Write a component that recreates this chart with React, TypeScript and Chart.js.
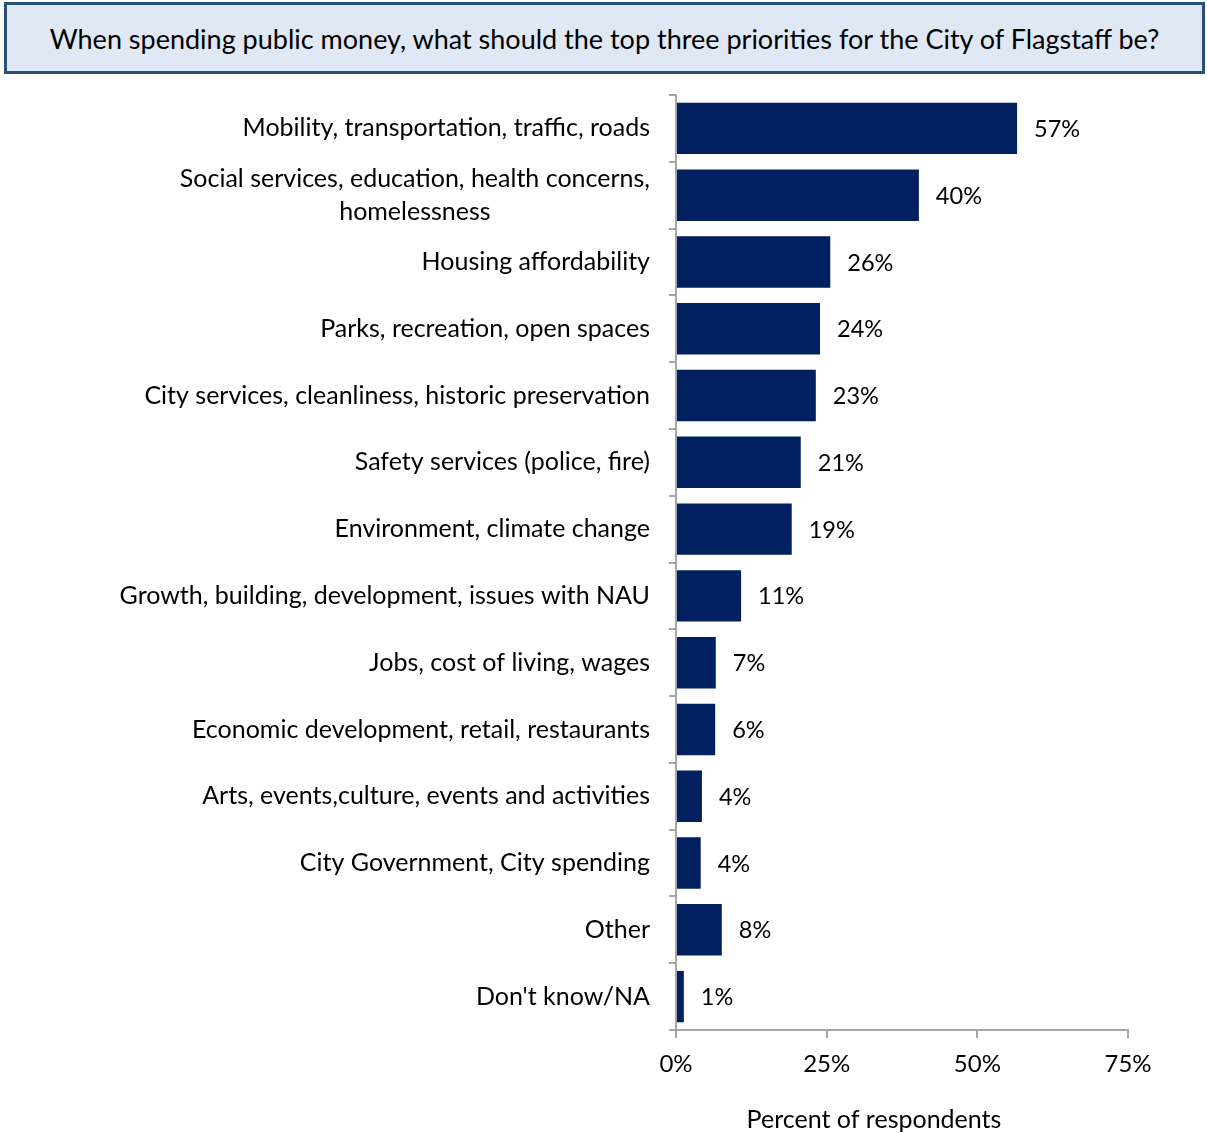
import React, { useEffect, useRef } from 'react';
import { Chart, registerables } from 'chart.js';

Chart.register(...registerables);

const titleText = 'When spending public money, what should the top three priorities for the City of Flagstaff be?';
const axisTitle = 'Percent of respondents';

const categories: (string | string[])[] = [
  'Mobility, transportation, traffic, roads',
  ['Social services, education, health concerns,', 'homelessness'],
  'Housing affordability',
  'Parks, recreation, open spaces',
  'City services, cleanliness, historic preservation',
  'Safety services (police, fire)',
  'Environment, climate change',
  'Growth, building, development, issues with NAU',
  'Jobs, cost of living, wages',
  'Economic development, retail, restaurants',
  'Arts, events,culture, events and activities',
  'City Government, City spending',
  'Other',
  "Don't know/NA",
];

const values = [56.6, 40.3, 25.6, 23.9, 23.2, 20.7, 19.2, 10.8, 6.6, 6.5, 4.3, 4.1, 7.6, 1.3];
const valueLabels = ['57%', '40%', '26%', '24%', '23%', '21%', '19%', '11%', '7%', '6%', '4%', '4%', '8%', '1%'];
const xTickValues = [0, 25, 50, 75];

const W = 1207;
const H = 1133;
const FONT = 'Lato, "Open Sans", sans-serif';

export default function App() {
  const ref = useRef<HTMLCanvasElement | null>(null);

  useEffect(() => {
    document.body.style.margin = '0';
    if (!ref.current) return;
    const valueLabelPlugin = {
      id: 'valueLabels',
      afterDatasetsDraw(chart: any) {
        const ctx = chart.ctx;
        const meta = chart.getDatasetMeta(0);
        ctx.save();
        ctx.font = `23.5px ${FONT}`;
        ctx.fillStyle = '#000';
        ctx.textAlign = 'left';
        ctx.textBaseline = 'middle';
        meta.data.forEach((el: any, i: number) => {
          ctx.fillText(valueLabels[i], el.x + 17, el.y + 1);
        });
        ctx.restore();
      },
    };
    const categoryLabelPlugin = {
      id: 'categoryLabels',
      afterDraw(chart: any) {
        const ctx = chart.ctx;
        const ys = chart.scales.y;
        const right = ys.right - 7 - 19;
        const lh = 33;
        ctx.save();
        ctx.font = `25px ${FONT}`;
        ctx.fillStyle = '#000';
        ctx.textAlign = 'center';
        ctx.textBaseline = 'middle';
        categories.forEach((label, i) => {
          const lines = Array.isArray(label) ? label : [label];
          const y = ys.getPixelForValue(i);
          const blockW = Math.max(...lines.map((l) => ctx.measureText(l).width));
          const cx = right - blockW / 2;
          const y0 = y - ((lines.length - 1) * lh) / 2;
          lines.forEach((l, j) => ctx.fillText(l, cx, y0 + j * lh));
        });
        ctx.restore();
      },
    };
    const axisTitlePlugin = {
      id: 'axisTitle',
      afterDraw(chart: any) {
        const ctx = chart.ctx;
        const a = chart.chartArea;
        ctx.save();
        ctx.font = `25px ${FONT}`;
        ctx.fillStyle = '#000';
        ctx.textAlign = 'center';
        ctx.textBaseline = 'middle';
        ctx.fillText(axisTitle, (a.left + a.right) / 2 - 28, a.bottom + 90);
        ctx.restore();
      },
    };
    const chart = new Chart(ref.current, {
      type: 'bar',
      data: {
        labels: categories,
        datasets: [
          {
            data: values,
            backgroundColor: '#002060',
            borderWidth: 0,
            barPercentage: 0.77,
            categoryPercentage: 1,
          },
        ],
      },
      options: {
        indexAxis: 'y',
        responsive: false,
        animation: false,
        layout: { padding: { top: 95, right: 79, left: 0, bottom: 0 } },
        plugins: {
          legend: { display: false },
          tooltip: { enabled: false },
        },
        scales: {
          x: {
            type: 'linear',
            min: 0,
            max: 75,
            afterFit: (s: any) => {
              s.height = 103;
            },
            afterBuildTicks: (s: any) => {
              s.ticks = xTickValues.map((v) => ({ value: v }));
            },
            ticks: {
              callback: (v: any) => `${v}%`,
              color: '#000',
              font: { family: FONT, size: 24 },
              padding: 12,
              maxRotation: 0,
            },
            grid: {
              drawOnChartArea: false,
              drawTicks: true,
              tickLength: 8,
              color: '#a6a6a6',
              lineWidth: 2,
            },
            border: { display: true, color: '#a6a6a6', width: 2 },
          },
          y: {
            afterFit: (s: any) => {
              s.width = 676;
            },
            ticks: {
              display: false,
              autoSkip: false,
            },
            grid: {
              drawOnChartArea: false,
              drawTicks: true,
              tickLength: 7,
              color: '#a6a6a6',
              lineWidth: 2,
              offset: true,
            },
            border: { display: true, color: '#a6a6a6', width: 2 },
          },
        },
      },
      plugins: [valueLabelPlugin, categoryLabelPlugin, axisTitlePlugin],
    });
    return () => chart.destroy();
  }, []);

  return (
    <div style={{ position: 'relative', width: W, height: H, background: '#fff', overflow: 'hidden' }}>
      <canvas
        ref={ref}
        width={W}
        height={H}
        style={{ position: 'absolute', left: 0, top: 0, width: W, height: H }}
      />
      <div
        style={{
          position: 'absolute',
          left: 4,
          top: 2,
          width: 1201,
          height: 72,
          boxSizing: 'border-box',
          borderStyle: 'solid',
          borderWidth: 3,
          borderColor: '#27527c',
          background: '#dfe8f4',
          display: 'flex',
          alignItems: 'center',
          justifyContent: 'center',
          fontFamily: FONT,
          fontSize: 27,
          color: '#000',
          whiteSpace: 'nowrap',
        }}
      >
        {titleText}
      </div>
    </div>
  );
}
